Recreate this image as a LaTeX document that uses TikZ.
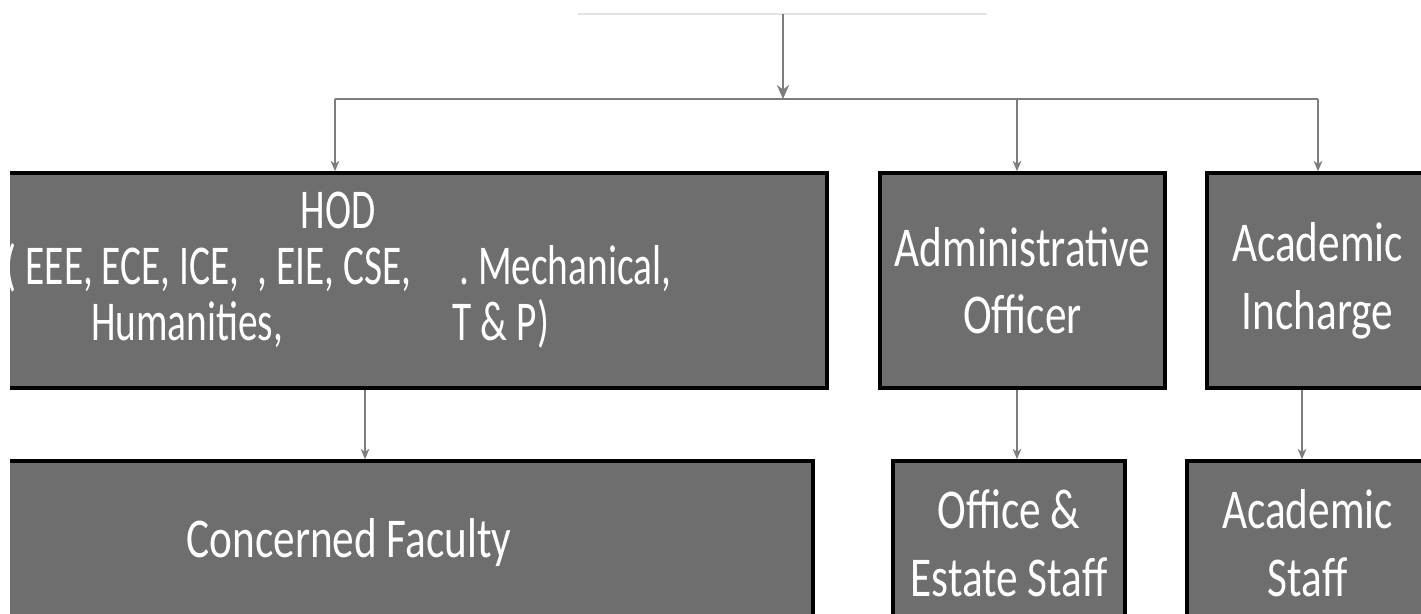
\documentclass[tikz,border=0pt]{standalone}
\usepackage{fontspec}
\setmainfont{Carlito}[FakeStretch=0.77]
\newfontfamily\hodfont{Carlito}[FakeStretch=0.7]
\usetikzlibrary{positioning, arrows.meta}
\definecolor{boxgray}{RGB}{110,110,110}
\definecolor{wiregray}{RGB}{125,125,125}
\definecolor{rulegray}{RGB}{228,228,228}
\tikzset{%
	>={Stealth[length = 6pt, width = 5pt]},
	unit/.style = {name = #1, draw = black, line width = 2pt, fill = boxgray, inner sep = 0pt,
		text = white, align = center, font = \fontsize{32}{38.5}\selectfont},
	txt/.style = {name = #1, text = white, align = center, inner sep = 0pt},
	wire/.style = {draw = wiregray, line width = 0.8pt}
}
\begin{document}
\begin{tikzpicture}[x = 0.02cm, y = -0.02cm]
	\useasboundingbox (0,0) rectangle (1421,614);
	\clip (10,0) rectangle (1421,614);
	% top of the chart, cut off
	\coordinate (rl) at (578,14);
	\coordinate (rr) at (987,14);
	\coordinate (top) at (783,14);
	\draw [rulegray, line width = 0.6pt] (rl) -- (rr);
	% bar
	\coordinate (hub) at (783,99);
	\coordinate (bl) at (335,99);
	\coordinate (bm) at (1017,99);
	\coordinate (br) at (1318,99);
	% first row
	\node [unit = {HOD}, minimum width = 16.94cm, minimum height = 4.3cm] at (403.5,280.5) {};
	\node [unit = {AO}, minimum width = 5.7cm, minimum height = 4.3cm] at (1022.5,280.5) {Administrative\\Officer};
	\node [unit = {AI}, minimum width = 4.42cm, minimum height = 4.3cm] at (1317.5,280.5) {Academic\\Incharge};
	\node [txt = {hodtxt}, font = \hodfont\fontsize{32}{32}\selectfont] at (338,270)
		{HOD\\( EEE, ECE, ICE,\ \ , EIE, CSE,\hspace{0.96cm}.\ Mechanical,\\Humanities,\hspace{3.4cm}T \& P)\hspace*{0.72cm}};
	% second row
	\node [unit = {CF}, minimum width = 16.66cm, minimum height = 3.28cm] at (396.5,543) {};
	\node [unit = {OS}, minimum width = 4.64cm, minimum height = 3.28cm] at (1009,543) {Office \&\\Estate Staff};
	\node [unit = {AS}, minimum width = 4.82cm, minimum height = 3.28cm] at (1307.5,543) {Academic\\Staff};
	\node [txt = {cftxt}, font = \fontsize{32}{32}\selectfont] at (349,543) {Concerned Faculty};
	% connectors
	\draw [wire, -{Stealth[length = 8pt, width = 7pt]}] (top) -- (hub);
	\draw [wire] (bl) -- (br);
	\draw [wire, ->] (bl) -- (bl |- HOD.north);
	\draw [wire, ->] (bm) -- (bm |- AO.north);
	\draw [wire, ->] (br) -- (br |- AI.north);
	\draw [wire, ->] ([xshift = -0.77cm]HOD.south) -- ([xshift = -0.77cm]HOD.south |- CF.north);
	\draw [wire, ->] ([xshift = -0.11cm]AO.south) -- ([xshift = -0.11cm]AO.south |- OS.north);
	\draw [wire, ->] ([xshift = -0.31cm]AI.south) -- ([xshift = -0.31cm]AI.south |- AS.north);
\end{tikzpicture}
\end{document}
